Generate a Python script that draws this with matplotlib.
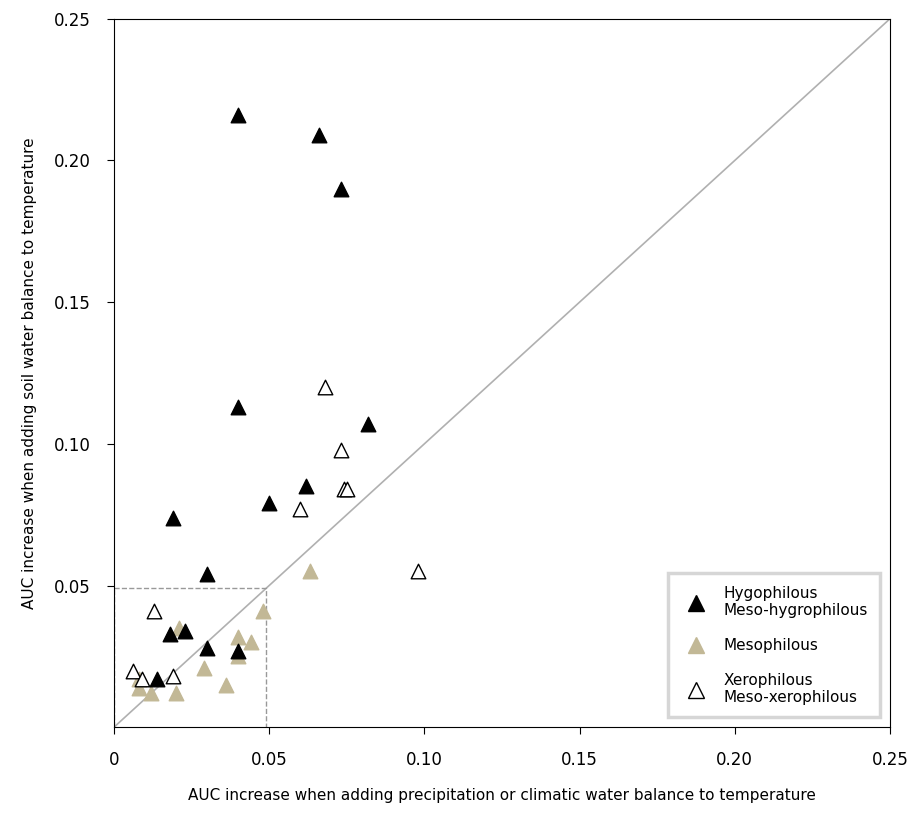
import matplotlib.pyplot as plt
from matplotlib.lines import Line2D

hygro_x = [0.040, 0.066, 0.073, 0.040, 0.082, 0.062, 0.050, 0.019, 0.030, 0.018, 0.023, 0.030, 0.040, 0.014]
hygro_y = [0.216, 0.209, 0.190, 0.113, 0.107, 0.085, 0.079, 0.074, 0.054, 0.033, 0.034, 0.028, 0.027, 0.017]
meso_x = [0.063, 0.048, 0.040, 0.044, 0.040, 0.029, 0.036, 0.020, 0.012, 0.008, 0.008, 0.021]
meso_y = [0.055, 0.041, 0.032, 0.030, 0.025, 0.021, 0.015, 0.012, 0.012, 0.014, 0.017, 0.035]
xero_x = [0.068, 0.073, 0.074, 0.075, 0.060, 0.098, 0.013, 0.006, 0.009, 0.019]
xero_y = [0.120, 0.098, 0.084, 0.084, 0.077, 0.055, 0.041, 0.020, 0.017, 0.018]
ticks = [0.05, 0.10, 0.15, 0.20, 0.25]
tick_labels = ["0.05", "0.10", "0.15", "0.20", "0.25"]

tan = "#c2b896"
fig = plt.figure(figsize=(9.09, 8.18), dpi=100)
ax = fig.add_axes([0.1254, 0.111, 0.8536, 0.866])
ax.plot([0, 0.25], [0, 0.25], color="#b0b0b0", lw=1.2, zorder=1)
ax.plot([0, 0.049, 0.049], [0.049, 0.049, 0], color="#999999", lw=1, ls="--", zorder=1)
ax.plot([0, 0], [0, 0.049], color="#999999", lw=1, ls="--", zorder=1)
ax.scatter(meso_x, meso_y, marker="^", s=110, color=tan, zorder=2)
ax.scatter(hygro_x, hygro_y, marker="^", s=110, color="black", zorder=3)
ax.scatter(xero_x, xero_y, marker="^", s=110, facecolor="white", edgecolor="black", linewidths=1, zorder=4)

ax.set_xlim(0, 0.25)
ax.set_ylim(0, 0.25)
ax.set_xticks([0] + ticks)
ax.set_xticklabels(["0"] + tick_labels, fontsize=12)
ax.set_yticks(ticks)
ax.set_yticklabels(tick_labels, fontsize=12)
ax.tick_params(direction="out", length=5, pad=12)
ax.set_xlabel("AUC increase when adding precipitation or climatic water balance to temperature", fontsize=11, labelpad=14)
ax.set_ylabel("AUC increase when adding soil water balance to temperature", fontsize=11, labelpad=12)
for s in ax.spines.values():
    s.set_color("black")

handles = [
    Line2D([], [], marker="^", ls="", color="black", markersize=11),
    Line2D([], [], marker="^", ls="", color=tan, markersize=11),
    Line2D([], [], marker="^", ls="", markerfacecolor="white", markeredgecolor="black", markersize=11),
]
leg = ax.legend(handles, ["Hygophilous\nMeso-hygrophilous", "Mesophilous", "Xerophilous\nMeso-xerophilous"],
                loc="lower right", fontsize=11, frameon=True, fancybox=False, labelspacing=1.3,
                borderpad=0.8, bbox_to_anchor=(0.997, 0.003))
leg.get_frame().set_edgecolor("#cccccc")
leg.get_frame().set_linewidth(2.5)
fig.savefig("out.png")
